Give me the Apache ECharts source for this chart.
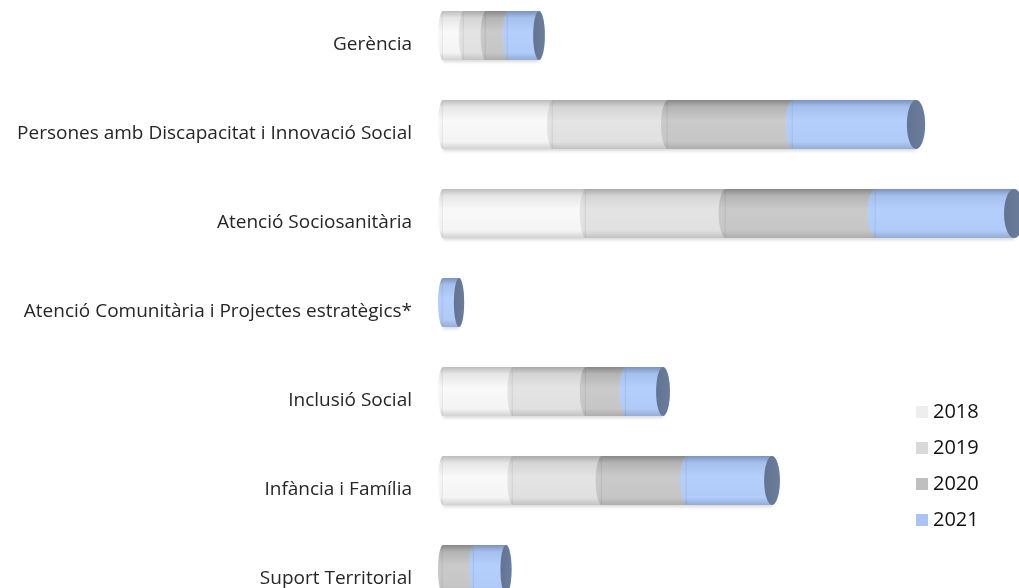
<!DOCTYPE html>
<html>
<head>
<meta charset="utf-8">
<title>Cylinder chart</title>
<script src="https://cdn.jsdelivr.net/npm/echarts@6/dist/echarts.min.js"></script>
<style>
  html, body { margin: 0; padding: 0; background: #ffffff; }
  #chart { width: 1019px; height: 588px; }
</style>
</head>
<body>
<div id="chart"></div>
<script>
// categories, top to bottom
const categories = [
  'Gerència',
  'Persones amb Discapacitat i Innovació Social',
  'Atenció Sociosanitària',
  'Atenció Comunitària i Projectes estratègics*',
  'Inclusió Social',
  'Infància i Família',
  'Suport Territorial'
];
const years = ['2018', '2019', '2020', '2021'];

// values
const values2018 = [21, 110, 143, 0, 70, 70, 0];
const values2019 = [22, 115, 140, 0, 73, 89, 0];
const values2020 = [22, 125, 150, 0, 40, 85, 31];
const values2021 = [31, 123, 138, 16, 37, 85, 32];
const seriesValues = [values2018, values2019, values2020, values2021];

// legend colours and cylinder shading (top edge -> bottom edge)
const legendColors = ['#eeeeee', '#d9d9d9', '#bfbfbf', '#a9c4f2'];
const bodyColors = [
  ['#bdbdbd', '#e6e6e6', '#f9f9f9', '#f4f4f4', '#d2d2d2'],
  ['#a9a9a9', '#d4d4d4', '#e4e4e4', '#e0e0e0', '#c2c2c2'],
  ['#888888', '#b4b4b4', '#cacaca', '#c6c6c6', '#adadad'],
  ['#7c93bd', '#a6c0ee', '#b5cffc', '#b0cbf8', '#95acd6']
];
const capColor = '#6b7d9c';

const GRID_LEFT = 443;

const chart = echarts.init(document.getElementById('chart'));

// ellipse width grows a little to the right (perspective)
function rxAt(x) {
  return 5 + Math.max(0, Math.min(1, (x - GRID_LEFT) / 575)) * 5;
}

function makeFill(idx) {
  const c = bodyColors[idx];
  return new echarts.graphic.LinearGradient(0, 0, 0, 1, [
    { offset: 0, color: c[0] },
    { offset: 0.14, color: c[1] },
    { offset: 0.42, color: c[2] },
    { offset: 0.85, color: c[3] },
    { offset: 1, color: c[4] }
  ]);
}

function renderSegment(params, api) {
  const cat = api.value(0);
  const start = api.value(1);
  const end = api.value(2);
  if (end <= start) return;
  const p0 = api.coord([start, cat]);
  const p1 = api.coord([end, cat]);
  const band = api.size([0, 1])[1];
  const h = band * 0.55;
  const cy = p0[1] - 9;
  const ry = h / 2;
  const fill = makeFill(params.seriesIndex);
  const children = [
    { type: 'ellipse', shape: { cx: p0[0], cy: cy, rx: rxAt(p0[0]), ry: ry }, style: { fill: fill } },
    {
      type: 'rect',
      shape: { x: p0[0], y: cy - ry, width: p1[0] - p0[0], height: h },
      style: { fill: fill, shadowColor: 'rgba(0,0,0,0.15)', shadowBlur: 3, shadowOffsetY: 2 }
    },
    { type: 'ellipse', shape: { cx: p1[0], cy: cy, rx: rxAt(p1[0]), ry: ry }, style: { fill: fill } }
  ];
  // end cap on the last year
  if (params.seriesIndex === years.length - 1) {
    children.push({
      type: 'ellipse',
      shape: { cx: p1[0], cy: cy, rx: rxAt(p1[0]), ry: ry },
      style: {
        fill: new echarts.graphic.LinearGradient(0, 0, 1, 0, [
          { offset: 0, color: '#62748f' },
          { offset: 1, color: capColor }
        ])
      }
    });
  }
  return { type: 'group', children: children };
}

// stacked start / end for every year
let series = [];
let running = categories.map(() => 0);
seriesValues.forEach((vals, i) => {
  const data = vals.map((v, c) => {
    const s = running[c];
    running[c] = s + v;
    return [c, s, s + v];
  });
  series.push({
    name: years[i],
    type: 'custom',
    renderItem: renderSegment,
    itemStyle: { color: legendColors[i] },
    encode: { x: [1, 2], y: 0 },
    clip: false,
    data: data
  });
});

const option = {
  animation: false,
  backgroundColor: '#ffffff',
  // grid runs past the right and bottom edges of the canvas, as in the picture
  grid: {
    left: GRID_LEFT,
    top: 0,
    width: 600,
    height: 623,
    containLabel: false,
    outerBoundsMode: 'none'
  },
  xAxis: {
    type: 'value',
    min: 0,
    max: 600,
    show: false
  },
  yAxis: {
    type: 'category',
    inverse: true,
    data: categories,
    axisLine: { show: false },
    axisTick: { show: false },
    splitLine: { show: false },
    axisLabel: {
      margin: 31,
      color: '#262626',
      fontSize: 19,
      fontFamily: 'Open Sans'
    }
  },
  legend: {
    orient: 'vertical',
    left: 911,
    top: 397,
    icon: 'rect',
    itemWidth: 12,
    itemHeight: 12,
    itemGap: 16,
    itemTextGap: 5,
    data: years,
    textStyle: {
      fontSize: 20,
      color: '#111111',
      fontFamily: 'Open Sans'
    }
  },
  series: series
};

chart.setOption(option);
</script>
</body>
</html>
